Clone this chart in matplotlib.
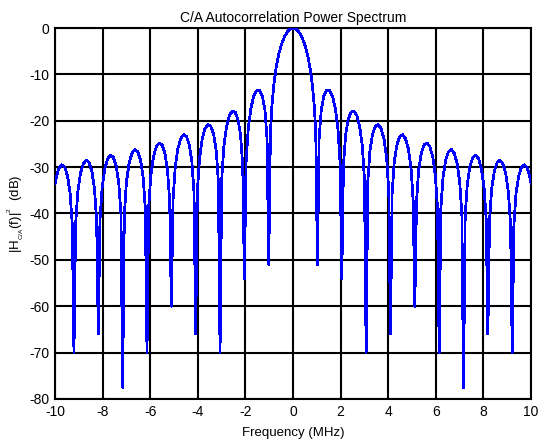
import matplotlib
matplotlib.use("Agg")
import matplotlib.pyplot as plt

plt.rcParams["font.family"] = ["Liberation Sans", "DejaVu Sans"]
plt.rcParams["mathtext.fontset"] = "custom"
plt.rcParams["mathtext.rm"] = "Liberation Sans"
plt.rcParams["mathtext.it"] = "Liberation Sans"
plt.rcParams["axes.unicode_minus"] = False

# C/A code power spectrum, one row per lobe, each lobe followed by its null
freq_mhz = [
    -10.0, -9.960, -9.840, -9.717, -9.597, -9.477, -9.367, -9.277, -9.207,
    -9.137, -9.047, -8.937, -8.817, -8.694, -8.574, -8.454, -8.344, -8.254, -8.184,
    -8.114, -8.024, -7.914, -7.794, -7.671, -7.551, -7.431, -7.321, -7.231, -7.161,
    -7.091, -7.001, -6.891, -6.771, -6.648, -6.528, -6.408, -6.298, -6.208, -6.138,
    -6.068, -5.978, -5.868, -5.748, -5.625, -5.505, -5.385, -5.275, -5.185, -5.115,
    -5.045, -4.955, -4.845, -4.725, -4.602, -4.482, -4.362, -4.252, -4.162, -4.092,
    -4.022, -3.932, -3.822, -3.702, -3.579, -3.459, -3.339, -3.229, -3.139, -3.069,
    -2.999, -2.909, -2.799, -2.679, -2.556, -2.436, -2.316, -2.206, -2.116, -2.046,
    -1.976, -1.886, -1.776, -1.656, -1.533, -1.413, -1.293, -1.183, -1.093, -1.023,
    -0.953, -0.90, -0.82, -0.72, -0.60, -0.48, -0.36, -0.24, -0.12, 0.0,
    0.12, 0.24, 0.36, 0.48, 0.60, 0.72, 0.82, 0.90, 0.953, 1.023,
    1.093, 1.183, 1.293, 1.413, 1.533, 1.656, 1.776, 1.886, 1.976, 2.046,
    2.116, 2.206, 2.316, 2.436, 2.556, 2.679, 2.799, 2.909, 2.999, 3.069,
    3.139, 3.229, 3.339, 3.459, 3.579, 3.702, 3.822, 3.932, 4.022, 4.092,
    4.162, 4.252, 4.362, 4.482, 4.602, 4.725, 4.845, 4.955, 5.045, 5.115,
    5.185, 5.275, 5.385, 5.505, 5.625, 5.748, 5.868, 5.978, 6.068, 6.138,
    6.208, 6.298, 6.408, 6.528, 6.648, 6.771, 6.891, 7.001, 7.091, 7.161,
    7.231, 7.321, 7.431, 7.551, 7.671, 7.794, 7.914, 8.024, 8.114, 8.184,
    8.254, 8.344, 8.454, 8.574, 8.694, 8.817, 8.937, 9.047, 9.137, 9.207,
    9.277, 9.367, 9.477, 9.597, 9.717, 9.840, 9.960, 10.0,
]
power_db = [
    -33.5, -32.4, -30.2, -29.5, -30.0, -31.9, -35.7, -42.5, -70.0,
    -42.4, -35.4, -31.4, -29.3, -28.5, -29.0, -30.9, -34.7, -41.5, -66.0,
    -41.4, -34.4, -30.4, -28.2, -27.4, -27.9, -29.8, -33.6, -40.4, -77.5,
    -40.2, -33.2, -29.2, -27.0, -26.2, -26.7, -28.5, -32.3, -39.0, -70.0,
    -38.8, -31.8, -27.8, -25.6, -24.8, -25.2, -27.0, -30.7, -37.5, -60.0,
    -37.2, -30.2, -26.1, -23.9, -23.0, -23.4, -25.2, -28.8, -35.6, -66.0,
    -35.3, -28.2, -24.0, -21.7, -20.8, -21.2, -22.9, -26.5, -33.1, -70.0,
    -32.7, -25.5, -21.3, -18.9, -17.9, -18.1, -19.7, -23.1, -29.7, -54.0,
    -29.1, -21.8, -17.4, -14.7, -13.5, -13.4, -14.6, -17.7, -23.9, -51.0,
    -22.8, -17.5, -12.7, -8.8, -5.6, -3.4, -1.9, -0.8, -0.2, 0.0,
    -0.2, -0.8, -1.9, -3.4, -5.6, -8.8, -12.7, -17.5, -22.8, -51.0,
    -23.9, -17.7, -14.6, -13.4, -13.5, -14.7, -17.4, -21.8, -29.1, -54.0,
    -29.7, -23.1, -19.7, -18.1, -17.9, -18.9, -21.3, -25.5, -32.7, -70.0,
    -33.1, -26.5, -22.9, -21.2, -20.8, -21.7, -24.0, -28.2, -35.3, -66.0,
    -35.6, -28.8, -25.2, -23.4, -23.0, -23.9, -26.1, -30.2, -37.2, -60.0,
    -37.5, -30.7, -27.0, -25.2, -24.8, -25.6, -27.8, -31.8, -38.8, -70.0,
    -39.0, -32.3, -28.5, -26.7, -26.2, -27.0, -29.2, -33.2, -40.2, -77.5,
    -40.4, -33.6, -29.8, -27.9, -27.4, -28.2, -30.4, -34.4, -41.4, -66.0,
    -41.5, -34.7, -30.9, -29.0, -28.5, -29.3, -31.4, -35.4, -42.4, -70.0,
    -42.5, -35.7, -31.9, -30.0, -29.5, -30.2, -32.4, -33.5,
]

x_ticks = [-10, -8, -6, -4, -2, 0, 2, 4, 6, 8, 10]
y_ticks = [0, -10, -20, -30, -40, -50, -60, -70, -80]

fig = plt.figure(figsize=(5.4, 4.44), dpi=100)
ax = fig.add_axes([0.102, 0.1014, 0.8815, 0.8355])

ax.plot(freq_mhz, power_db, color="#0000ff", linewidth=1.25,
        antialiased=False, zorder=3)

ax.set_xlim(-10, 10)
ax.set_ylim(-80, 0)
ax.set_xticks(x_ticks)
ax.set_yticks(y_ticks)
ax.set_xticklabels([str(t) for t in x_ticks])
ax.set_yticklabels([str(t) for t in y_ticks])
ax.grid(True, color="black", linewidth=1.5, linestyle="-")
ax.set_axisbelow(True)
for sp in ax.spines.values():
    sp.set_linewidth(1.5)
ax.tick_params(direction="in", length=0, labelsize=10, pad=4)

ax.set_title("C/A Autocorrelation Power Spectrum", fontsize=10, pad=4)
ax.set_xlabel("Frequency (MHz)", fontsize=9.5, labelpad=6)
ax.set_ylabel(r"$|H_{_{C/A}}(f)|^{^2}$  (dB)", fontsize=9.5, labelpad=2)

fig.savefig("out.png", dpi=100)
